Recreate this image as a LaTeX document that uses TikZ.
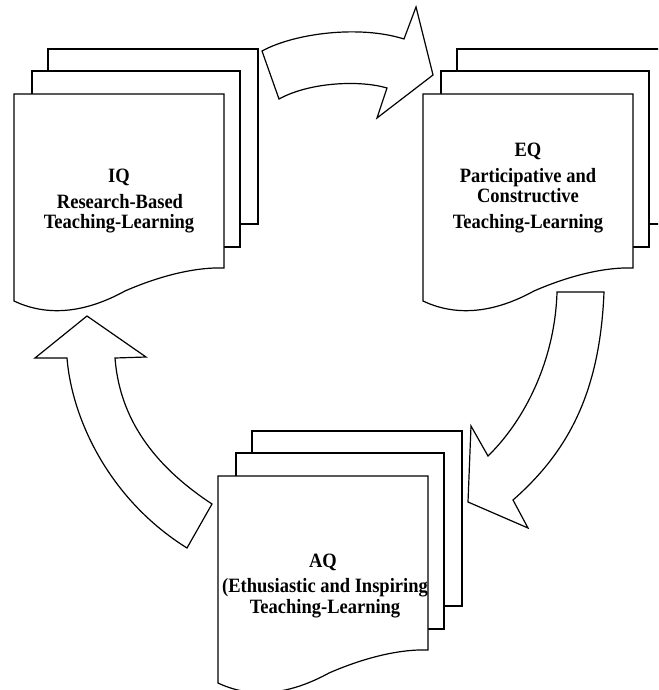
\documentclass[tikz,border=0pt]{standalone}
\usepackage{fontspec}
\setmainfont{Liberation Serif}
\usepackage{graphicx}
\newcommand\lblfont{\fontsize{18.5}{20}\selectfont\bfseries}
\newcommand\tallstr[1]{\scalebox{1}[1.1]{#1}}

\tikzset{
  docpage/.style={draw=black, fill=white, line width=1.2pt, line join=miter},
  cyclearrow/.style={draw=black, fill=white, line width=1.2pt, line join=miter},
  lbl/.style={font=\lblfont, anchor=base, inner sep=0pt},
  % three stacked pages; the front one has a wavy lower edge
  docstack/.pic={
    \filldraw[docpage] (34,-45) rectangle (244,130);
    \filldraw[docpage] (18,-23) rectangle (226,153);
    \filldraw[docpage] (0,0) -- (210,0) -- (210,174)
      .. controls (185,173) and (150,180) .. (111,197)
      .. controls (80,214) and (40,226) .. (0,207) -- cycle;
  }
}

\begin{document}
\begin{tikzpicture}[x=1pt, y=-1pt]
\useasboundingbox (0,0) rectangle (658,690);
\clip (0,0) rectangle (658,690);

% document stacks
\pic at (14,94)   {docstack};
\pic at (423,94)  {docstack};
\pic at (218,476) {docstack};

% IQ
\node[lbl] (iq1) at (119,182) {\tallstr{IQ}};
\node[lbl] (iq2) at (120,208) {\tallstr{Research-Based}};
\node[lbl] (iq3) at (119,228) {\tallstr{Teaching-Learning}};

% EQ
\node[lbl] (eq1) at (528,156) {\tallstr{EQ}};
\node[lbl] (eq2) at (528,182) {\tallstr{Participative and}};
\node[lbl] (eq3) at (528,202) {\tallstr{Constructive}};
\node[lbl] (eq4) at (528,228) {\tallstr{Teaching-Learning}};

% AQ
\node[lbl] (aq1) at (323,567) {\tallstr{AQ}};
\node[lbl] (aq2) at (325,592) {\tallstr{(Ethusiastic and Inspiring}};
\node[lbl] (aq3) at (325,613) {\tallstr{Teaching-Learning}};

% curved block arrow, IQ to EQ
\filldraw[cyclearrow] (262,51)
  .. controls (295,33) and (360,25) .. (404,39)
  -- (416,7) -- (433,75) -- (377,118) -- (387,88)
  .. controls (360,80) and (310,82) .. (279,99) -- cycle;

% curved block arrow, EQ to AQ
\filldraw[cyclearrow] (557,292) -- (604,292)
  .. controls (600,390) and (570,450) .. (513,500)
  -- (528,528) -- (468,502) -- (471,426) -- (488,456)
  .. controls (525,420) and (555,360) .. (557,292) -- cycle;

% curved block arrow, AQ to IQ
\filldraw[cyclearrow] (87,316) -- (146,357) -- (115,358)
  .. controls (119,410) and (145,460) .. (212,504)
  -- (187,548)
  .. controls (110,500) and (72,420) .. (67,358)
  -- (35,358) -- cycle;
\end{tikzpicture}
\end{document}
